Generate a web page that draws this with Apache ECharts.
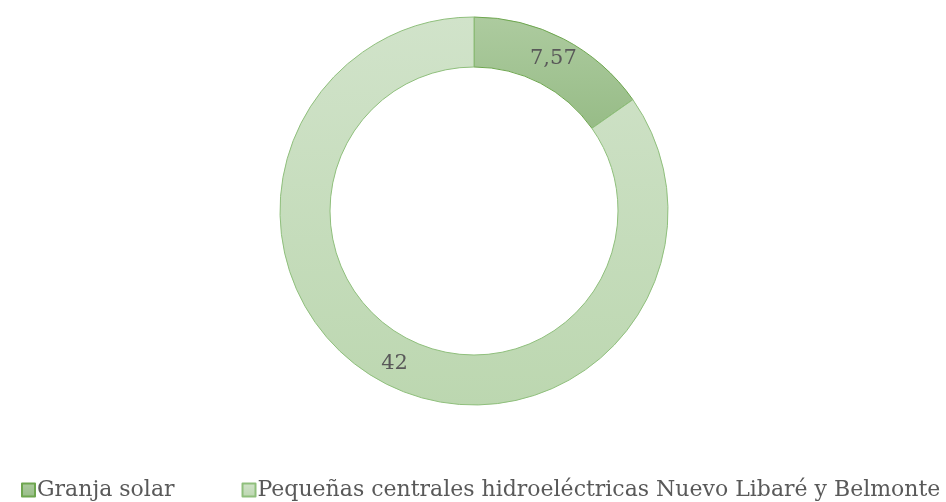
<!DOCTYPE html>
<html>
<head>
<meta charset="utf-8">
<script src="https://cdn.jsdelivr.net/npm/echarts@6/dist/echarts.min.js"></script>
<style>
    html, body {margin: 0; padding: 0; background: #fff;}
    #chart {width: 946px; height: 502px;}
</style>
</head>
<body>
<div id="chart"></div>
<script>
// categorias y valores
const categories = ['Granja solar', 'Pequeñas centrales hidroeléctricas Nuevo Libaré y Belmonte'];
const values = [7.57, 42];
const labels = ['7,57', '42'];

const fills = [
    {top: '#adcb9f', bottom: '#97bc87', border: '#6ea64f'},
    {top: '#d1e3ca', bottom: '#bcd7b0', border: '#8fbf7c'}
];

const grad = (c) => ({
    type: 'linear', x: 0, y: 0, x2: 0, y2: 1,
    colorStops: [{offset: 0, color: c.top}, {offset: 1, color: c.bottom}]
});

const chart = echarts.init(document.getElementById('chart'));
chart.setOption({
    animation: false,
    textStyle: {fontFamily: 'DejaVu Serif'},
    legend: {
        bottom: -4,
        left: 16,
        itemGap: 67,
        itemWidth: 13,
        itemHeight: 13,
        icon: 'rect',
        textStyle: {fontSize: 22, color: '#595959', fontFamily: 'DejaVu Serif', padding: [0, 0, 0, -3]},
        data: categories
    },
    series: [{
        type: 'pie',
        center: [474, 211],
        radius: [144, 194],
        startAngle: 90,
        clockwise: true,
        label: {
            show: true,
            position: 'inside',
            fontSize: 21,
            color: '#595959',
            fontFamily: 'DejaVu Serif',
            formatter: (p) => labels[p.dataIndex]
        },
        labelLine: {show: false},
        emphasis: {disabled: true},
        data: categories.map((name, i) => ({
            name: name,
            value: values[i],
            itemStyle: {color: grad(fills[i]), borderColor: fills[i].border, borderWidth: 1}
        }))
    }]
});
</script>
</body>
</html>
